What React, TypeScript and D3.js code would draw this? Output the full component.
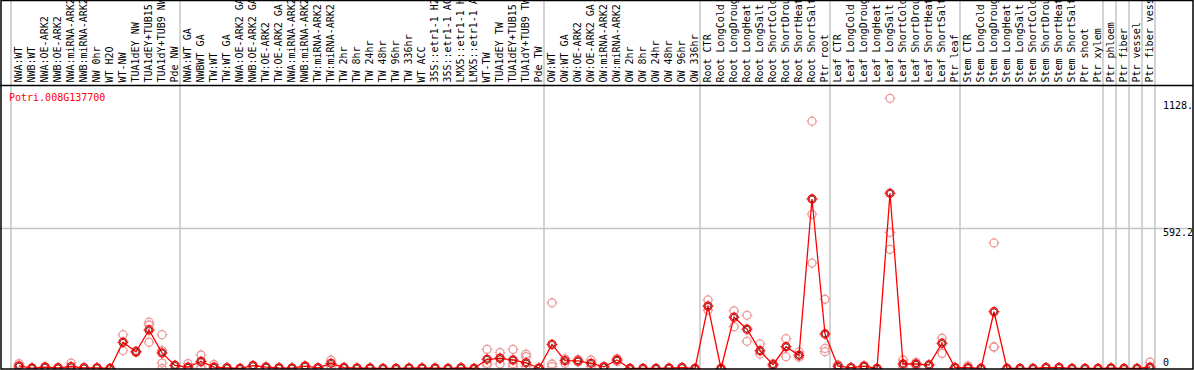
import React, { useRef, useEffect } from 'react';
import * as d3 from 'd3';

const geneId = 'Potri.008G137700';

const sampleLabels = [
  'NWA:WT', 'NWB:WT', 'NWA:OE-ARK2', 'NWB:OE-ARK2', 'NWA:miRNA-ARK2', 'NWB:miRNA-ARK2',
  'NW 0hr', 'WT H2O', 'WT-NW', 'TUA1dEY NW', 'TUA1dEY+TUB15 NW', 'TUA1dY+TUB9 NW', 'Pde NW',
  'NWA:WT GA', 'NWBWT GA', 'TW:WT', 'TW:WT GA', 'NWA:OE-ARK2 GA', 'NWB:OE-ARK2 GA',
  'TW:OE-ARK2', 'TW:OE-ARK2 GA', 'NWA:miRNA-ARK2 GA', 'NWB:miRNA-ARK2 GA', 'TW:miRNA-ARK2',
  'TW:miRNA-ARK2 GA', 'TW 2hr', 'TW 8hr', 'TW 24hr', 'TW 48hr', 'TW 96hr', 'TW 336hr', 'WT ACC',
  '35S::etr1-1 H2O', '35S::etr1-1 ACC', 'LMX5::etr1-1 H2O', 'LMX5::etr1-1 ACC', 'WT-TW',
  'TUA1dEY TW', 'TUA1dEY+TUB15 TW', 'TUA1dY+TUB9 TW', 'Pde TW',
  'OW:WT', 'OW:WT GA', 'OW:OE-ARK2', 'OW:OE-ARK2 GA', 'OW:miRNA-ARK2', 'OW:miRNA-ARK2 GA',
  'OW 2hr', 'OW 8hr', 'OW 24hr', 'OW 48hr', 'OW 96hr', 'OW 336hr',
  'Root CTR', 'Root LongCold', 'Root LongDrought', 'Root LongHeat', 'Root LongSalt',
  'Root ShortCold', 'Root ShortDrought', 'Root ShortHeat', 'Root ShortSalt', 'Ptr root',
  'Leaf CTR', 'Leaf LongCold', 'Leaf LongDrought', 'Leaf LongHeat', 'Leaf LongSalt',
  'Leaf ShortCold', 'Leaf ShortDrought', 'Leaf ShortHeat', 'Leaf ShortSalt', 'Ptr leaf',
  'Stem CTR', 'Stem LongCold', 'Stem LongDrought', 'Stem LongHeat', 'Stem LongSalt',
  'Stem ShortCold', 'Stem ShortDrought', 'Stem ShortHeat', 'Stem ShortSalt', 'Ptr shoot',
  'Ptr xylem', 'Ptr phloem', 'Ptr fiber', 'Ptr vessel', 'Ptr fiber vessel',
];

// number of samples between each pair of grey separators
const groupSizes = [13, 28, 12, 10, 10, 11, 1, 1, 1, 1];

const meanValues = [
  11, 2, 6, 3, 8, 3, 3, 0, 111, 71, 163, 66, 13,
  6, 30, 6, 3, 0, 12, 6, 3, 2, 10, 3, 22, 4, 2, 2, 0, 0, 2, 2, 2, 0, 3, 0, 39, 43, 36, 24, 2,
  102, 33, 32, 22, 7, 36, 0, 0, 0, 2, 4, 0,
  264, 0, 217, 166, 75, 16, 92, 56, 717, 146,
  10, 4, 10, 0, 741, 19, 19, 15, 107, 4,
  4, 0, 240, 0, 0, 0, 4, 4, 0, 0, 0,
  2, 0, 0, 6,
];

const replicateValues: number[][] = [
  [21, 5], [3, 0], [7, 4], [4, 1], [23, 0], [4, 1], [3, 2], [0, 0], [143, 76], [68, 73],
  [196, 184, 111], [143, 76, 23, 0], [14, 11],
  [21, 0], [57, 6, 27], [17, 0], [4, 1], [0, 0], [13, 9], [7, 4], [4, 1], [2, 1], [11, 7],
  [4, 1], [36, 9], [5, 2], [2, 1], [2, 1], [0, 0], [0, 0], [2, 1], [2, 1], [2, 1], [0, 0],
  [4, 1], [0, 0], [81, 15, 22], [67, 19, 45], [81, 8, 20], [61, 50, 8], [2, 0],
  [278, 19, 8], [41, 22], [38, 28], [36, 8], [9, 5], [30, 42], [0, 0], [0, 0], [0, 0],
  [2, 1], [5, 2], [0, 0],
  [290, 247], [0, 0], [244, 177], [225, 115], [104, 61], [21, 9], [126, 50], [70, 48],
  [1046, 652, 446], [293, 85, 71],
  [16, 0], [4, 3], [11, 7], [0, 0], [1143, 576, 504], [36, 8], [26, 12], [15, 14], [128, 64],
  [4, 3],
  [11, 0], [0, 0], [531, 92, 90], [0, 0], [0, 0], [0, 0], [4, 3], [4, 3], [0, 0], [0, 0],
  [0, 0],
  [2, 1], [0, 0], [0, 0], [27, 0],
];

const axisValues = [1128.4, 592.2, 0];
const axisLabels = ['1128.4', '592.2', '0'];
const gridValues = [592.2];

const App: React.FC = () => {
  const svgRef = useRef<SVGSVGElement>(null);

  useEffect(() => {
    const svg = d3.select(svgRef.current);
    svg.selectAll('*').remove();

    const width = 1194;
    const height = 370;
    const labelBottom = 85.5;
    const font = '"DejaVu Sans Mono", monospace';

    const x = d3.scaleBand<number>()
      .domain(d3.range(sampleLabels.length))
      .range([11, 1155]);
    const cx = (i: number) => x(i)! + 8;

    const y = d3.scaleLinear().domain([0, 592.2]).range([368.5, 228.5]);

    svg.append('clipPath').attr('id', 'box')
      .append('rect').attr('x', 0).attr('y', 0).attr('width', 1193).attr('height', 369);

    const g = svg.append('g').attr('clip-path', 'url(#box)');

    g.append('rect').attr('width', width).attr('height', height).attr('fill', '#fff');

    // grey group separators
    const starts = [0, ...Array.from(d3.cumsum(groupSizes))];
    g.append('g')
      .selectAll('line')
      .data(starts)
      .join('line')
      .attr('x1', d => (d < sampleLabels.length ? x(d)! : x.range()[1]))
      .attr('x2', d => (d < sampleLabels.length ? x(d)! : x.range()[1]))
      .attr('y1', 0)
      .attr('y2', height)
      .attr('stroke', '#c4c4c4')
      .attr('stroke-width', 1.5);

    g.append('g')
      .selectAll('line')
      .data(gridValues)
      .join('line')
      .attr('x1', 0)
      .attr('x2', width)
      .attr('y1', d => y(d))
      .attr('y2', d => y(d))
      .attr('stroke', '#c4c4c4')
      .attr('stroke-width', 1.5);

    // rotated sample labels
    g.append('g')
      .selectAll('text')
      .data(sampleLabels)
      .join('text')
      .attr('transform', (d, i) => `translate(${cx(i) + 3},${labelBottom - 3}) rotate(-90)`)
      .attr('font-family', font)
      .attr('font-size', 10)
      .attr('fill', '#000')
      .text(d => d);

    g.append('text')
      .attr('x', 9)
      .attr('y', 101)
      .attr('font-family', font)
      .attr('font-size', 10)
      .attr('fill', '#ff0000')
      .text(geneId);

    g.append('g')
      .selectAll('text')
      .data(axisValues)
      .join('text')
      .attr('x', 1163)
      .attr('y', d => (d === 0 ? y(d) - 3 : y(d) + 7.5))
      .attr('font-family', font)
      .attr('font-size', 10)
      .attr('fill', '#000')
      .text((d, i) => axisLabels[i]);

    const marker = (
      sel: d3.Selection<SVGGElement, unknown, null, undefined>,
      pts: { i: number; v: number }[],
      color: string,
    ) => {
      const r = 4;
      const m = sel.selectAll('g').data(pts).join('g')
        .attr('transform', d => `translate(${cx(d.i)},${y(d.v)})`);
      m.append('path')
        .attr('d', `M0,${-r - 1.5}V${-r + 0.5}M0,${r - 0.5}V${r + 1.5}M${-r - 1.5},0H${-r + 0.5}M${r - 0.5},0H${r + 1.5}`)
        .attr('stroke', color)
        .attr('stroke-width', 1);
      m.append('circle')
        .attr('r', r)
        .attr('fill', 'none')
        .attr('stroke', color)
        .attr('stroke-width', 1.3);
      return m;
    };

    const reps = replicateValues.flatMap((vals, i) => vals.map(v => ({ i, v })));
    marker(g.append('g'), reps, '#ec9a9a');

    const line = d3.line<number>()
      .x((d, i) => cx(i))
      .y(d => y(d));

    g.append('path')
      .datum(meanValues)
      .attr('d', line)
      .attr('fill', 'none')
      .attr('stroke', '#ff0000')
      .attr('stroke-width', 1.3);

    const means = meanValues.map((v, i) => ({ i, v }));
    const mm = marker(g.append('g'), means, '#ff0000');
    mm.append('circle')
      .attr('r', 2.9)
      .attr('fill', 'none')
      .attr('stroke', '#5a0000')
      .attr('stroke-width', 0.8);

    // frame
    g.append('line').attr('x1', 0).attr('x2', width).attr('y1', labelBottom).attr('y2', labelBottom)
      .attr('stroke', '#000').attr('stroke-width', 1.6);
    svg.append('rect')
      .attr('x', 1).attr('y', 0.5).attr('width', 1192).attr('height', 368.5)
      .attr('fill', 'none').attr('stroke', '#000').attr('stroke-width', 1.5);
  }, []);

  return (
    <>
      <style>{'body{margin:0}'}</style>
      <svg ref={svgRef} width={1194} height={370} style={{ display: 'block' }} />
    </>
  );
};

export default App;
